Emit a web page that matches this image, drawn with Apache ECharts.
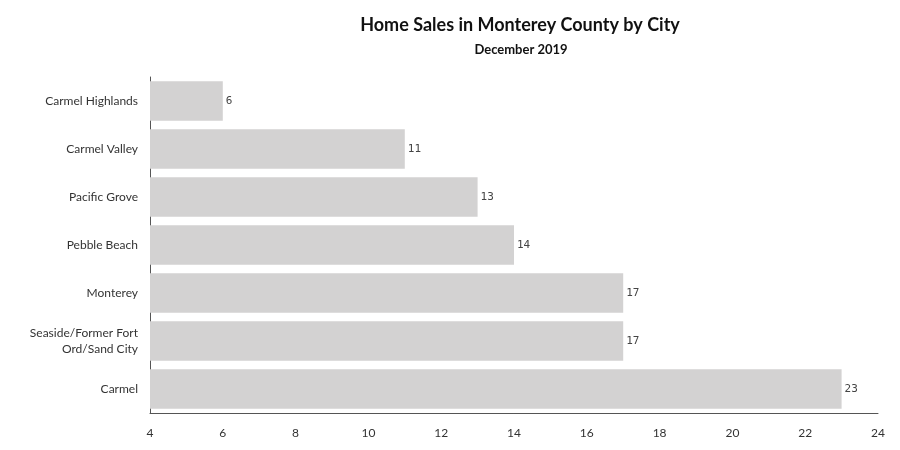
<!DOCTYPE html>
<html>
<head>
<meta charset="utf-8">
<script src="https://cdn.jsdelivr.net/npm/echarts@6/dist/echarts.min.js"></script>
<style>html,body{margin:0;padding:0;background:#fff}#c{width:900px;height:450px}</style>
</head>
<body>
<div id="c"></div>
<script>
const cities = ["Carmel Highlands", "Carmel Valley", "Pacific Grove", "Pebble Beach", "Monterey", "Seaside/Former Fort\nOrd/Sand City", "Carmel"];
const sales = [6, 11, 13, 14, 17, 17, 23];
const xMin = 4, xMax = 24, xStep = 2;

const chart = echarts.init(document.getElementById('c'));
chart.setOption({
  animation: false,
  title: [
    { text: 'Home Sales in Monterey County by City', left: 515, top: 11, textAlign: 'center',
      textStyle: { fontFamily: 'Lato', fontWeight: 'bold', fontSize: 18, color: '#111' } },
    { text: 'December 2019', left: 516, top: 38, textAlign: 'center',
      textStyle: { fontFamily: 'Lato', fontWeight: 'bold', fontSize: 13, color: '#111' } }
  ],
  grid: { left: 150, right: 22, top: 77, bottom: 37, containLabel: false },
  xAxis: {
    type: 'value', min: xMin, max: xMax, interval: xStep,
    axisLine: { show: true, lineStyle: { color: '#555', width: 1 } },
    axisTick: { show: false },
    splitLine: { show: false },
    axisLabel: { margin: 14, color: '#333', fontFamily: 'Lato', fontSize: 12 }
  },
  yAxis: {
    type: 'category', data: cities, inverse: true,
    axisLine: { show: true, lineStyle: { color: '#555', width: 1 } },
    axisTick: { show: false },
    axisLabel: { margin: 12, color: '#333', fontFamily: 'Lato', fontSize: 12, lineHeight: 16, align: 'right' }
  },
  series: [{
    type: 'bar', data: sales, barCategoryGap: '18%',
    itemStyle: { color: '#d3d2d2' },
    label: { show: true, position: 'right', distance: 3, color: '#444', fontFamily: '"DejaVu Sans Mono", monospace', fontSize: 11 }
  }]
});
</script>
</body>
</html>
